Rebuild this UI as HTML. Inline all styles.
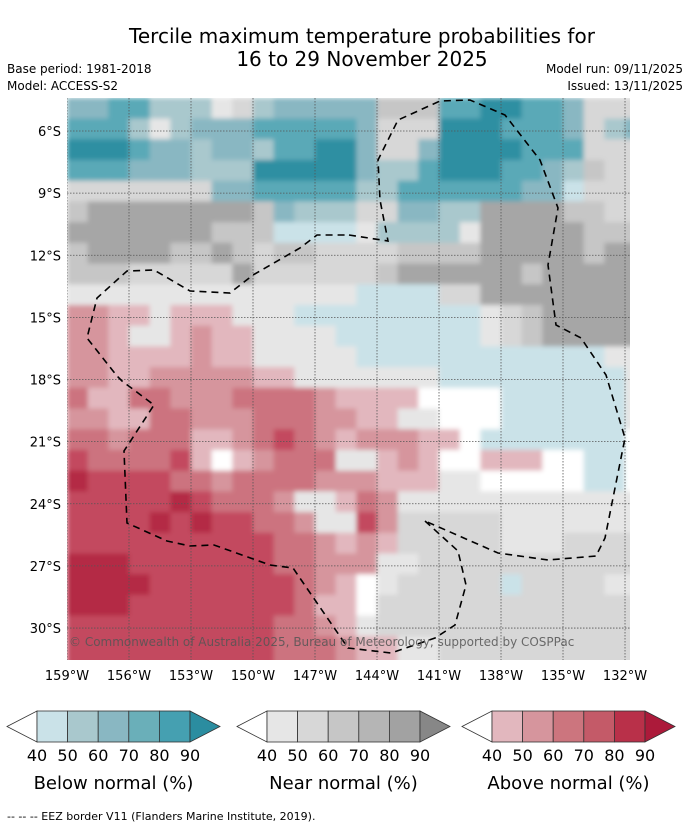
<!DOCTYPE html>
<html><head><meta charset="utf-8">
<style>
html,body{margin:0;padding:0;background:#fff;}
body{width:690px;height:827px;overflow:hidden;font-family:"Liberation Sans","DejaVu Sans",sans-serif;}
svg text{font-family:"DejaVu Sans","Liberation Sans",sans-serif;}
</style></head>
<body>
<svg id="chart" width="690" height="827" viewBox="0 0 690 827" xmlns="http://www.w3.org/2000/svg">
  <defs>
    <clipPath id="mapclip"><rect x="67" y="98" width="563" height="562"/></clipPath>
    <filter id="soft" x="0" y="0" width="1" height="1"><feGaussianBlur stdDeviation="2.5" edgeMode="duplicate"/></filter>
  </defs>
  <text x="362" y="43" text-anchor="middle" font-size="20" fill="#000">Tercile maximum temperature probabilities for</text>
  <text x="362" y="66" text-anchor="middle" font-size="20" fill="#000">16 to 29 November 2025</text>
  <text x="7" y="73" font-size="12">Base period: 1981-2018</text>
  <text x="7" y="90" font-size="12">Model: ACCESS-S2</text>
  <text x="683" y="73" font-size="12" text-anchor="end">Model run: 09/11/2025</text>
  <text x="683" y="90" font-size="12" text-anchor="end">Issued: 13/11/2025</text>

  <g clip-path="url(#mapclip)">
    <g id="cells" filter="url(#soft)"></g>
    <g id="grid"></g>
    <g fill="none" stroke="#000" stroke-width="1.6" stroke-dasharray="7,5">
      <path d="M349,235 L388,241 L380,200 L378,160 L398,120 L440,101 L470,100 L505,115 L540,160 L555,200 L558,208 L548,265 L556,325 L581,338 L606,375 L625,438 L615,488 L605,538 L596,556 L548,560 L498,553 L425,521"/>
      <path d="M425,521 L458,551 L466,585 L455,625 L435,638 L391,653 L348,648 L293,568 L270,565 L214,545 L190,546 L167,541 L127,523 L124,451 L154,405 L122,381 L117,376 L87,338 L97,298 L127,271 L154,270 L190,291 L230,293 L253,275 L300,248 L317,235 L349,235"/>
    </g>
    <text x="69" y="646" font-size="12" fill="#555" fill-opacity="0.85">© Commonwealth of Australia 2025, Bureau of Meteorology, supported by COSPPac</text>
  </g>
  <g id="xticks"></g>
  <g id="yticks"></g>

  <g id="legends"></g>
  <text x="7" y="820" font-size="11">--  --  -- EEZ border V11 (Flanders Marine Institute, 2019).</text>
</svg>
<script>
// ---- data ----
const lonStart = -159;      // western edge of grid (deg E)
const latStart = -4.4;      // northern edge of grid (deg)
const cellDeg = 1;
const xTickValues = [-159,-156,-153,-150,-147,-144,-141,-138,-135,-132];
const xTickLabels = ["159°W","156°W","153°W","150°W","147°W","144°W","141°W","138°W","135°W","132°W"];
const yTickValues = [-6,-9,-12,-15,-18,-21,-24,-27,-30];
const yTickLabels = ["6°S","9°S","12°S","15°S","18°S","21°S","24°S","27°S","30°S"];
const legendLabels = ["40","50","60","70","80","90"];
const legendTitles = ["Below normal (%)","Near normal (%)","Above normal (%)"];
// category codes per 1° cell: b-f below normal, n-q near normal, k,l,m,s,t above normal, '.' none
const gridRows = [
 "ddeecccnocdddddpppeeffeedooo",
 "eeecncdddeeeeedooofffeeedocd",
 "fffeddcddceeffdoodffffeeeooo",
 "eeedddcccfffffdccefffeedcpoo",
 "oooooooddeeeeecceeeeeeddbooo",
 "pqqqqqqqqpdcccooddccqqqqppoo",
 "qqqqqqqpppbbbbnccccnqqqqqppp",
 "pqqqqppq"+"poppoo"+"oopppp"+"qqqqqpqq",
 "pppoooooqoooooopqqqqqqpqqqqq",
 "nnnnnnnnnnnnnnbbbbooqqqqqqqq",
 "llkknkkknnnbbbbbbbbbnopqqqqq",
 "llknnklkknnnnbbbbbbbnopqqqqq",
 "llkkkklkknnnnnbbbbbbbbbbbbnn",
 "llkklllllkknnnnnnnbbbbbbbbbn",
 "mkkmmlllmmmmlkkkk....bbbbbbn",
 "llkkmmlllmmmllkknn...bbbbbbn",
 "mmlmmmkklmsmlklllkk.bbbbbbb.",
 "smmmmsk.klmmmnnklk..kkk..bb.",
 "tssssmmlmmmmlllkkknn.....bb.",
 "ssssstsmmmlnnkmlnnnnnnnnnnnn",
 "sssststssmmlnnslooooonnnnnnn",
 "ssssssssssmmlklkooooonnnoooo",
 "tttsssssssmmlllnnooooooooooo",
 "tttt"+"sssssss"+"mlk"+"."+"n"+"ooooo"+"b"+"oooonn",
 "ttt"+"ssssssss"+"mkk"+"."+"ooooooooooooo",
 "ssssssssss"+"mm"+"l"+"k"+"n"+"ooooooooooooo",
 "ssssssssss"+"mmm"+"l"+"kk"+"nn"+"oooooooooo",
 "ssssssssss"+"mmm"+"l"+"kk"+"nn"+"oooooooooo"
];
const palette = {
 ".":"#ffffff",
 b:"#cae2e8", c:"#a9c8cd", d:"#89b7c2", e:"#5aa9b7", f:"#2d8fa2",
 n:"#e6e6e6", o:"#d7d7d7", p:"#c6c6c6", q:"#a6a6a6",
 k:"#e2b7be", l:"#d6959d", m:"#cc737f", s:"#c34a5f", t:"#b42a45"
};
const legendColors = [
 ["#cae2e8","#a9c8cd","#89b7c2","#6aafb9","#45a0b1","#2b8da0"],
 ["#e6e6e6","#d7d7d7","#c6c6c6","#b5b5b5","#a2a2a2","#878787"],
 ["#e2b7be","#d6959d","#cc757e","#c45a68","#b93049","#ac1a3a"]
];
// ---- axes ----
const NS = "http://www.w3.org/2000/svg";
function xScale(lon){ return 67 + (lon - (-159)) * 20.667; }
function yScale(lat){ return 131 + (-6 - lat) * 20.71; }
function mk(tag, attrs, parent){ const e=document.createElementNS(NS,tag); for(const k in attrs) e.setAttribute(k,attrs[k]); parent.appendChild(e); return e; }

const cells = document.getElementById('cells');
gridRows.forEach((row, r) => {
  for (let c = 0; c < 28; c++) {
    const code = row[c] || row[row.length-1];
    const lon = lonStart + c*cellDeg, lat = latStart - r*cellDeg;
    const x0 = xScale(lon), x1 = xScale(lon+cellDeg), y0 = yScale(lat), y1 = yScale(lat-cellDeg);
    const el = mk('rect',{x:x0.toFixed(2),y:y0.toFixed(2),width:(x1-x0+0.6).toFixed(2),height:(y1-y0+0.6).toFixed(2),fill:palette[code]||"#fff"},cells);
    
    
  }
});

const grid = document.getElementById('grid');
const xt = document.getElementById('xticks');
xTickValues.forEach((v,i) => {
  const x = xScale(v);
  const gl = mk('line',{x1:x,y1:98,x2:x,y2:660,stroke:"#555",'stroke-width':0.8,'stroke-dasharray':"1.5,1.5"},grid);
  
  
  const t = mk('text',{x:x,y:680,'text-anchor':'middle','font-size':13,fill:'#000'},xt);
  t.textContent = xTickLabels[i];
  
  
});
const yt = document.getElementById('yticks');
yTickValues.forEach((v,i) => {
  const y = yScale(v);
  const gl = mk('line',{x1:67,y1:y,x2:630,y2:y,stroke:"#555",'stroke-width':0.8,'stroke-dasharray':"1.5,1.5"},grid);
  
  
  const t = mk('text',{x:61,y:y+5,'text-anchor':'end','font-size':13,fill:'#000'},yt);
  t.textContent = yTickLabels[i];
  
  
});

// ---- legends ----
const lg = document.getElementById('legends');
const legendX = [7, 237, 462];
legendX.forEach((lx, li) => {
  const g = mk('g',{},lg);
  
  
  const top = 711, bot = 742, mid = (top+bot)/2;
  const bx = lx + 30, bw = 30.6;
  const tl = mk('polygon',{points:`${lx},${mid} ${bx},${top} ${bx},${bot}`,fill:'#fff',stroke:'#333','stroke-width':0.8},g);
  
  
  for (let k=0;k<5;k++){
    const r = mk('rect',{x:bx+k*bw,y:top,width:bw,height:bot-top,fill:legendColors[li][k],stroke:'#333','stroke-width':0.8},g);
    
    
  }
  const ex = bx + 5*bw;
  const tr = mk('polygon',{points:`${ex},${top} ${ex+30},${mid} ${ex},${bot}`,fill:legendColors[li][5],stroke:'#333','stroke-width':0.8},g);
  
  
  legendLabels.forEach((lab,k) => {
    const t = mk('text',{x:bx+k*bw,y:761,'text-anchor':'middle','font-size':16,fill:'#000'},g);
    t.textContent = lab;
    
    
  });
  const tt = mk('text',{x:bx+2.5*bw,y:789,'text-anchor':'middle','font-size':18,fill:'#000'},g);
  tt.textContent = legendTitles[li];
  
  
});
</script>
</body></html>
